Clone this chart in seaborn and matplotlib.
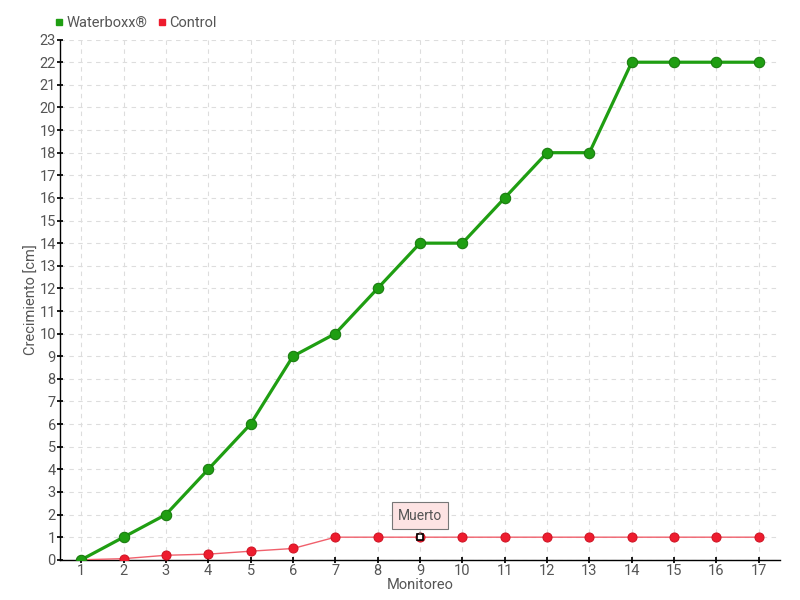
import numpy as np
import pandas as pd
import matplotlib
matplotlib.use("Agg")
import matplotlib.pyplot as plt
import seaborn as sns
from matplotlib.lines import Line2D

monitoreo = list(range(1, 18))
waterboxx = [0, 1, 2, 4, 6, 9, 10, 12, 14, 14, 16, 18, 18, 22, 22, 22, 22]
control = [0, 0.05, 0.2, 0.25, 0.38, 0.5, 1, 1, 1, 1, 1, 1, 1, 1, 1, 1, 1]
muerto_idx = 8  # monitoreo 9

green = "#1f9e12"
red = "#ee1c2e"
txt = "#555555"

sns.set_theme(style="white")
plt.rcParams["font.family"] = ["Roboto", "DejaVu Sans"]

df = pd.DataFrame({"Monitoreo": monitoreo * 2,
                   "Crecimiento": waterboxx + control,
                   "Serie": ["Waterboxx®"] * 17 + ["Control"] * 17})

fig = plt.figure(figsize=(8, 6), dpi=100)
ax = fig.add_axes([0.075, 0.067, 0.9, 0.867])

sns.lineplot(data=df[df.Serie == "Control"], x="Monitoreo", y="Crecimiento",
             color="#f0606c", lw=1, marker="o", markersize=6.5,
             markeredgecolor="#d01424", markerfacecolor=red, ax=ax, zorder=3)
sns.lineplot(data=df[df.Serie == "Waterboxx®"], x="Monitoreo", y="Crecimiento",
             color=green, lw=2.3, marker="o", markersize=7.5,
             markeredgecolor="#177a0d", markerfacecolor=green, ax=ax, zorder=4)

# dead plant marker
ax.plot(monitoreo[muerto_idx], control[muerto_idx], marker="s", markersize=4,
        markerfacecolor="white", markeredgecolor="black", mew=1.2, zorder=6)
ax.annotate("Muerto", xy=(monitoreo[muerto_idx], control[muerto_idx]),
            xytext=(0, 15.5), textcoords="offset points", ha="center", va="center",
            fontsize=10, color=txt,
            bbox=dict(boxstyle="square,pad=0.45", fc="#fde3e3", ec="#777777", lw=0.8),
            arrowprops=dict(arrowstyle="-", color="#777777", lw=0.8), zorder=7)

ax.set_xlim(0.5, 17.5)
ax.set_ylim(0, 23)
ax.set_xticks(monitoreo)
ax.set_yticks(range(0, 24))
ax.tick_params(axis="both", labelsize=10.5, colors=txt, length=4, direction="inout",
               bottom=True, left=True, color="black")
ax.tick_params(axis="x", pad=1)
ax.tick_params(axis="y", pad=1)
ax.grid(True, color="#dddddd", ls=(0, (4, 4)), lw=0.8)
for s in ["top", "right"]:
    ax.spines[s].set_visible(False)
for s in ["left", "bottom"]:
    ax.spines[s].set_color("black")
    ax.spines[s].set_linewidth(1)
ax.set_xlabel("Monitoreo", fontsize=10.5, color=txt)
ax.set_ylabel("Crecimiento [cm]", fontsize=10.5, color=txt)
ax.xaxis.set_label_coords(0.5, -0.035)
ax.yaxis.set_label_coords(-0.03, 0.5)

handles = [Line2D([], [], marker="s", ls="", color=green, markersize=5),
           Line2D([], [], marker="s", ls="", color=red, markersize=5)]
fig.legend(handles, ["Waterboxx®", "Control"], loc="upper left",
           bbox_to_anchor=(0.05, 0.995), ncol=2, frameon=False, fontsize=10.5,
           labelcolor=txt, handletextpad=0.1, columnspacing=0.6, handlelength=0.8)

fig.savefig("out.png", dpi=100)
